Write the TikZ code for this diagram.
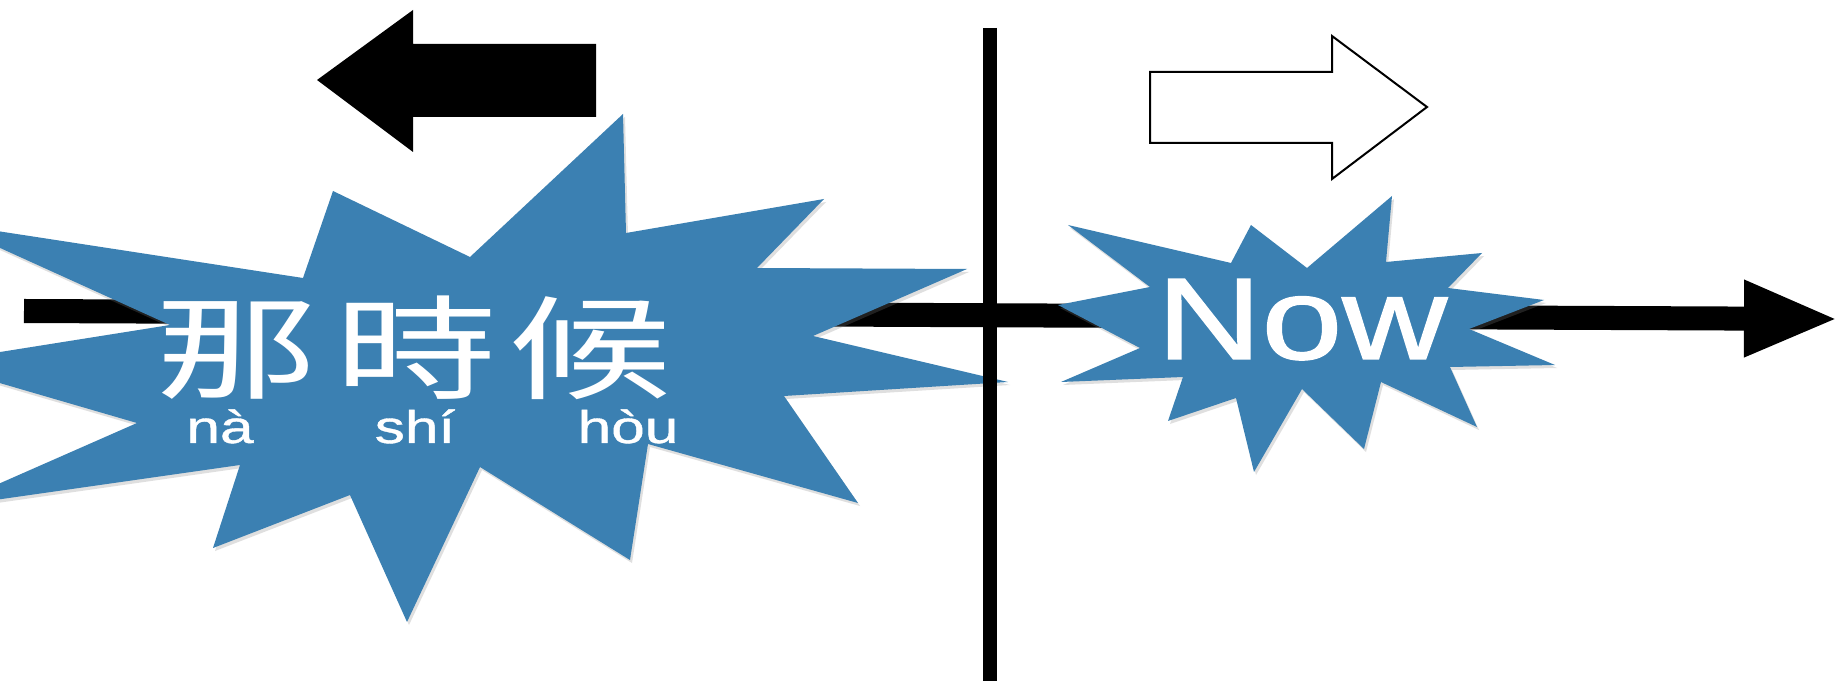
\documentclass[tikz,border=0pt]{standalone}
\usepackage{fontspec}
\newfontfamily\cjk{Noto Sans CJK TC}
\newfontfamily\pyfont[FakeBold=0.8]{Liberation Sans}
\newfontfamily\nowfont[FakeBold=1.2]{Liberation Sans}
\usetikzlibrary{arrows.meta,shadows}
\definecolor{burstblue}{RGB}{59,128,178}

\begin{document}
\begin{tikzpicture}[x=0.01cm,y=-0.01cm,
    burst/.style={fill=burstblue, drop shadow={shadow xshift=0.02cm, shadow yshift=-0.03cm, opacity=0.25}},
    timeline/.style={line width=0.24cm, -{Triangle[length=0.95cm,width=0.70cm]}},
    hanzi/.style={text=white, font=\cjk\fontsize{32}{32}\selectfont, inner sep=0, anchor=base},
    pinyin/.style={text=white, font=\pyfont\fontsize{13}{13}\selectfont, inner sep=0, anchor=base}]
    \clip (0,0) rectangle (1841,685);
    \fill[white] (0,0) rectangle (1841,685);
    % time axis
    \coordinate (past) at (24,311);
    \coordinate (future) at (1839,319);
    \draw[timeline] (past) -- (future);
    % bursts
    \fill[burst] (-55,223) -- (303,278) -- (333,191) -- (470,257) -- (623,114) -- (626,233) -- (824,199) -- (757,268)
        -- (967,269) -- (813,336) -- (1008,382) -- (784,396) -- (858,503) -- (648,444) -- (630,560) -- (480,467)
        -- (407,622) -- (350,495) -- (213,548) -- (240,465) -- (-54,507) -- (137,423) -- (-69,363) -- (170,325) -- cycle;
    \fill[burst] (1068,225) -- (1231,263) -- (1251,225) -- (1307,268) -- (1392,196) -- (1386,262) -- (1482,253) -- (1448,288)
        -- (1544,300) -- (1469,329) -- (1555,365) -- (1450,367) -- (1477,427) -- (1381,382) -- (1364,449) -- (1302,389)
        -- (1254,472) -- (1236,398) -- (1168,421) -- (1183,377) -- (1061,382) -- (1140,348) -- (1058,305) -- (1150,287) -- cycle;
    % present
    \coordinate (nowtop) at (990,28);
    \coordinate (nowbot) at (990,681);
    \draw[line width=0.14cm] (nowtop) -- (nowbot);
    % block arrows
    \fill[black] (317,80) -- (413,10) -- (413,44) -- (596,44) -- (596,117) -- (413,117) -- (413,152) -- cycle;
    \draw[line width=0.02cm, fill=white] (1150,72) -- (1332,72) -- (1332,36) -- (1427,107) -- (1332,179) -- (1332,143) -- (1150,143) -- cycle;
    % labels
    \node[hanzi] (na) at (237,390) {\scalebox{1.45}[1]{那}};
    \node[hanzi] (shi) at (416,390) {\scalebox{1.45}[1]{時}};
    \node[hanzi] (hou) at (590,390) {\scalebox{1.45}[1]{候}};
    \node[pinyin] (pyna) at (220,443) {\scalebox{1.32}[1]{nà}};
    \node[pinyin] (pyshi) at (415,443) {\scalebox{1.32}[1]{shí}};
    \node[pinyin] (pyhou) at (628,443) {\scalebox{1.32}[1]{hòu}};
    \node[text=white, font=\nowfont\fontsize{33}{33}\selectfont, inner sep=0, anchor=base] (now) at (1302,359) {\scalebox{1.25}[1]{Now}};
\end{tikzpicture}
\end{document}
